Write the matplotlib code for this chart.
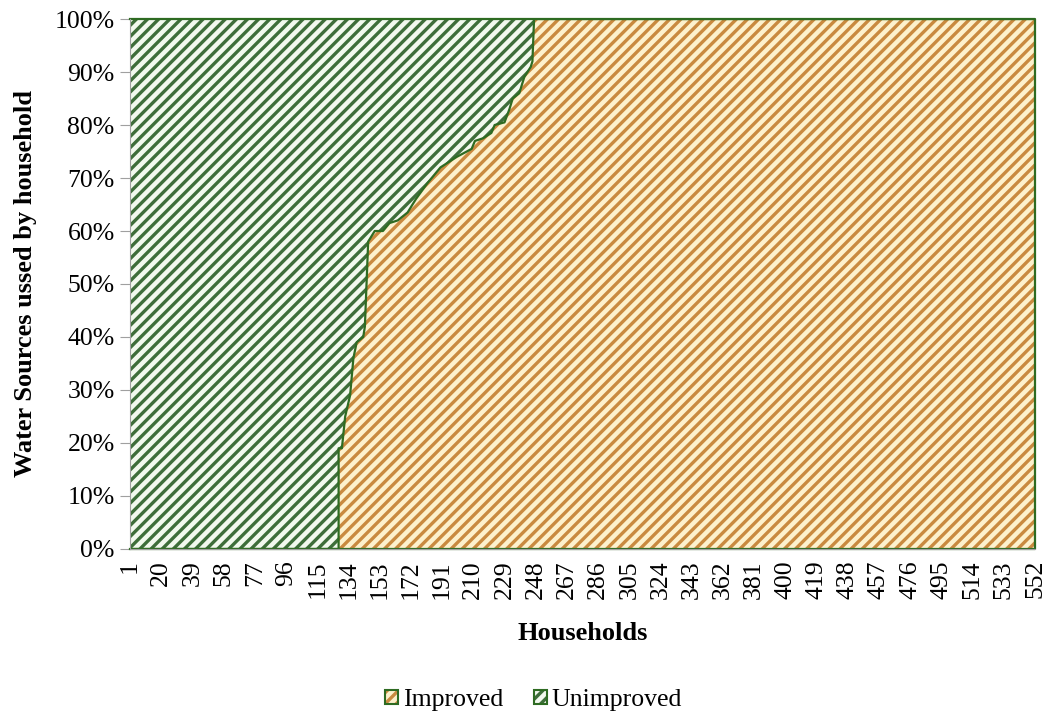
import matplotlib
matplotlib.use("Agg")
import matplotlib.pyplot as plt
from matplotlib.patches import Patch
from matplotlib.legend_handler import HandlerTuple
from matplotlib.ticker import PercentFormatter

# household index (x) and share of improved water source (%) along the boundary
households = [1, 128, 128, 130, 132, 135, 137, 139, 143, 144, 146, 150, 155, 159,
              164, 170, 175, 182, 190, 195, 200, 209, 211, 216, 221, 223, 229,
              232, 234, 238, 241, 245, 246, 247, 552]
improved_pct = [0, 0, 19, 19, 25, 29, 36, 39, 40, 42, 58, 60, 60, 61.5,
                62, 63.5, 66, 69, 72, 73, 74, 75.5, 77, 77.5, 78.5, 80, 80.5,
                83, 85, 86, 89, 91, 92, 100, 100]
tick_households = list(range(1, 553, 19))
series_names = ["Improved", "Unimproved"]

plt.rcParams["font.family"] = ["Liberation Serif", "DejaVu Serif"]
plt.rcParams["hatch.linewidth"] = 2.4

edge_green = "#2e6b22"
orange_bg, orange_stripe = "#fdf1cc", "#c98a3f"
green_bg, green_stripe = "#f2f9ee", "#3e6e3a"

fig, ax = plt.subplots(figsize=(10.46, 7.15), dpi=100)
fig.subplots_adjust(left=0.1243, right=0.9895, top=0.9734, bottom=0.2322)

improved = [v / 100 for v in improved_pct]
top = [1.0] * len(households)

ax.fill_between(households, 0, improved, facecolor=orange_bg,
                edgecolor=orange_stripe, hatch="///", linewidth=0)
ax.fill_between(households, improved, top, facecolor=green_bg,
                edgecolor=green_stripe, hatch="///", linewidth=0)
# outlines of the two areas
ax.plot(households, improved, color=edge_green, lw=1.6)
ax.plot([1, 552, 552, 1], [1, 1, 0, 0], color=edge_green, lw=1.6, clip_on=False)

ax.set_xlim(1, 552)
ax.set_ylim(0, 1)
ax.set_yticks([i / 10 for i in range(11)])
ax.yaxis.set_major_formatter(PercentFormatter(1.0, decimals=0))
ax.set_xticks(tick_households)
ax.set_xticklabels([str(t) for t in tick_households], rotation=90)
ax.tick_params(axis="y", labelsize=18.5, length=7, color="#a0a0a0", pad=4)
ax.tick_params(axis="x", labelsize=18.5, length=0, pad=8)

for side in ["top", "right"]:
    ax.spines[side].set_visible(False)
ax.spines["left"].set_color("#a0a0a0")
ax.spines["bottom"].set_color("#a0a0a0")

ax.set_xlabel("Households", fontsize=19, fontweight="bold", labelpad=17)
ax.set_ylabel("Water Sources ussed by household", fontsize=19,
              fontweight="bold", labelpad=13)

handles = [
    (Patch(facecolor=orange_bg, edgecolor=orange_stripe, hatch="///", lw=0),
     Patch(facecolor="none", edgecolor=edge_green, lw=1.5)),
    (Patch(facecolor=green_bg, edgecolor=green_stripe, hatch="///", lw=0),
     Patch(facecolor="none", edgecolor=edge_green, lw=1.5)),
]
fig.legend(handles, series_names, loc="lower center", ncol=2,
           bbox_to_anchor=(0.51, -0.027), frameon=False, fontsize=18.5,
           handler_map={tuple: HandlerTuple(ndivide=1)},
           handlelength=0.5, handleheight=0.5, handletextpad=0.2,
           columnspacing=1.2)

fig.savefig("out.png", dpi=100)
